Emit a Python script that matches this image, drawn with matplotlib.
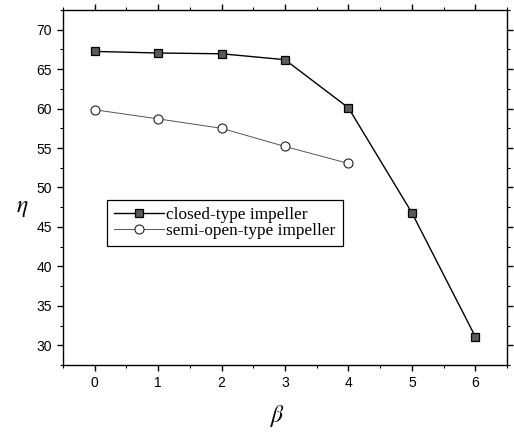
import matplotlib
matplotlib.use('Agg')
from matplotlib import pyplot as plt
from matplotlib.ticker import MultipleLocator

# efficiency vs blade angle beta
beta_closed = [0, 1, 2, 3, 4, 5, 6]
eta_closed = [67.25, 67.05, 66.95, 66.2, 60.1, 46.8, 31.1]
beta_semi = [0, 1, 2, 3, 4]
eta_semi = [59.85, 58.7, 57.5, 55.2, 53.05]

plt.rcParams['mathtext.fontset'] = 'stix'

fig = plt.figure(figsize=(5.14, 4.37), dpi=100)
ax = fig.add_axes([63 / 514, 1 - 365 / 437, 444 / 514, 355 / 437])

ax.plot(beta_closed, eta_closed, color='black', lw=1.0, marker='s', markersize=5.2,
        markerfacecolor='#5a5a5a', markeredgecolor='black', markeredgewidth=0.9,
        label='closed-type impeller')
ax.plot(beta_semi, eta_semi, color='#555555', lw=0.7, marker='o', markersize=6.5,
        markerfacecolor='white', markeredgecolor='#222222', markeredgewidth=0.8,
        label='semi-open-type impeller')

ax.set_xlim(-0.5, 6.5)
ax.set_ylim(27.5, 72.5)
ax.xaxis.set_major_locator(MultipleLocator(1))
ax.xaxis.set_minor_locator(MultipleLocator(0.5))
ax.yaxis.set_major_locator(MultipleLocator(5))
ax.yaxis.set_minor_locator(MultipleLocator(2.5))

ax.tick_params(which='both', direction='out', top=True, right=True,
               labeltop=False, labelright=False)
ax.tick_params(which='major', length=4, width=1.0, labelsize=10, pad=4)
ax.tick_params(which='minor', length=2.5, width=0.8)
for lab in ax.get_xticklabels() + ax.get_yticklabels():
    lab.set_fontfamily('Liberation Sans')
for sp in ax.spines.values():
    sp.set_linewidth(1.0)

fig.text(22 / 514, 1 - 207 / 437, r'$\eta$', fontsize=17, ha='center', va='center')
fig.text(278 / 514, 1 - 416 / 437, r'$\beta$', fontsize=17, ha='center', va='center')

leg = ax.legend(loc='upper left', bbox_to_anchor=(107 / 514, 1 - 200 / 437),
                bbox_transform=fig.transFigure, borderaxespad=0,
                prop={'family': 'Liberation Serif', 'size': 12.4},
                handlelength=2.9, handletextpad=0.15, borderpad=0.4,
                labelspacing=0.0, fancybox=False, framealpha=1,
                edgecolor='black')
leg.get_frame().set_linewidth(0.9)

fig.savefig('out.png', dpi=100)
